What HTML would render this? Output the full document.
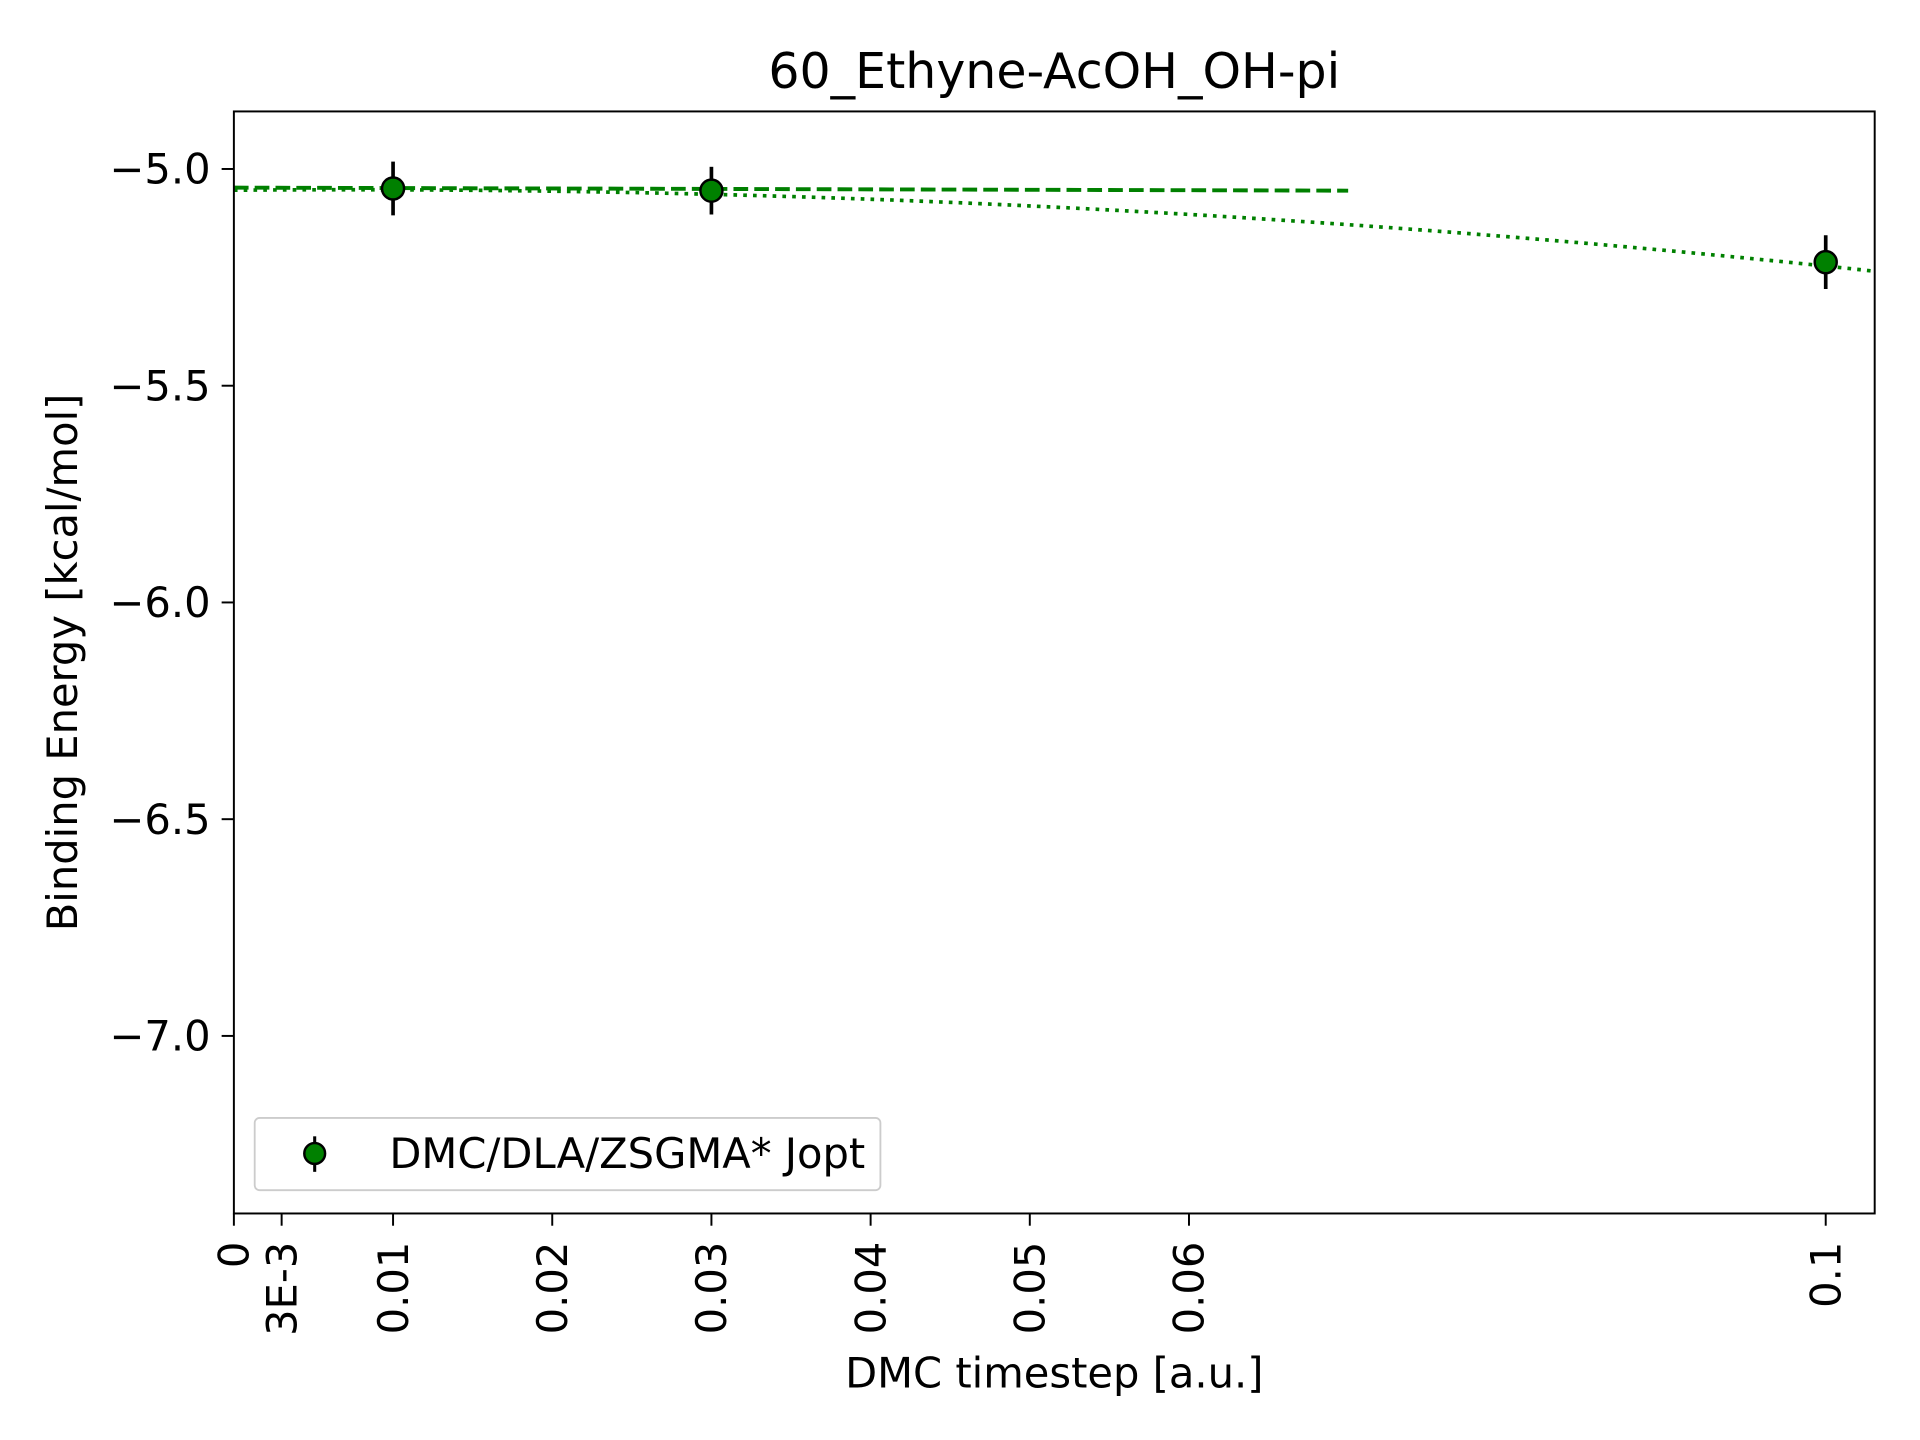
<!DOCTYPE html>
<html><head><meta charset="utf-8"><style>body{margin:0;background:#fff}svg{display:block}text{font-family:"DejaVu Sans","Liberation Sans",sans-serif;fill:#000}</style></head>
<body>
<svg id="chart" width="1920" height="1440" viewBox="0 0 1568 1176" xmlns="http://www.w3.org/2000/svg">
<rect width="1568" height="1176" fill="#fff"/>
<text x="861" y="72" font-size="40" text-anchor="middle">60_Ethyne-AcOH_OH-pi</text>
<g id="plot"></g>
<rect x="191" y="91" width="1340" height="900" fill="none" stroke="#000" stroke-width="1.6"/>
<text x="861" y="1133" font-size="34" text-anchor="middle">DMC timestep [a.u.]</text>
<text transform="translate(63,541) rotate(-90)" font-size="34" text-anchor="middle">Binding Energy [kcal/mol]</text>
<g>
<rect x="208" y="913" width="511" height="59" rx="4" fill="#fff" stroke="#ccc" stroke-width="1.5"/>
<line x1="257" y1="928" x2="257" y2="957" stroke="#000" stroke-width="2.5"/>
<circle cx="257" cy="942" r="8.5" fill="#008000" stroke="#000" stroke-width="2"/>
<text x="318" y="954" font-size="34">DMC/DLA/ZSGMA* Jopt</text>
</g>
<script>
const xs = [0.01, 0.03, 0.1];
const ys = [-5.045, -5.05, -5.215];
const errs = [0.062, 0.055, 0.062];
const xTicks = [0, 0.003, 0.01, 0.02, 0.03, 0.04, 0.05, 0.06, 0.1];
const xTickLabels = ["0", "3E-3", "0.01", "0.02", "0.03", "0.04", "0.05", "0.06", "0.1"];
const yTicks = [-5.0, -5.5, -6.0, -6.5, -7.0];
const yTickLabels = ["\u22125.0", "\u22125.5", "\u22126.0", "\u22126.5", "\u22127.0"];
const linFit = [-5.043, -0.1];
const quadFit = [-5.049, 0.3, -20.5];
const linRange = [0, 0.07];
const quadRange = [0, 0.103];

const X = v => 191 + v * 13000;
const Y = v => 138 + (-5.0 - v) * 354;
const NS = "http://www.w3.org/2000/svg";
const g = document.getElementById('plot');
function mk(tag, attrs, parent) {
  const e = document.createElementNS(NS, tag);
  for (const k in attrs) e.setAttribute(k, attrs[k]);
  (parent || g).appendChild(e);
  return e;
}
xTicks.forEach((t, i) => {
  const l = mk('line', {x1: X(t), x2: X(t), y1: 991, y2: 1001, stroke: '#000', 'stroke-width': 1.6});
  
  
  const tx = mk('text', {transform: `translate(${X(t) + 12},1014) rotate(-90)`, 'font-size': 34, 'text-anchor': 'end'});
  tx.textContent = xTickLabels[i];
  
  
});
yTicks.forEach((t, i) => {
  const l = mk('line', {x1: 181, x2: 191, y1: Y(t), y2: Y(t), stroke: '#000', 'stroke-width': 1.6});
  
  
  const tx = mk('text', {x: 172, y: Y(t) + 12, 'font-size': 34, 'text-anchor': 'end'});
  tx.textContent = yTickLabels[i];
  
  
});
const lin = mk('line', {x1: X(linRange[0]), y1: Y(linFit[0] + linFit[1]*linRange[0]), x2: X(linRange[1]), y2: Y(linFit[0] + linFit[1]*linRange[1]), stroke: '#008000', 'stroke-width': 3.2, 'stroke-dasharray': '12 5'});


let pts = [];
for (let k = 0; k <= 60; k++) {
  const x = quadRange[0] + (quadRange[1] - quadRange[0]) * k / 60;
  pts.push(X(x) + ',' + Y(quadFit[0] + quadFit[1]*x + quadFit[2]*x*x));
}
const q = mk('polyline', {points: pts.join(' '), fill: 'none', stroke: '#008000', 'stroke-width': 3, 'stroke-dasharray': '3 5'});


xs.forEach((x, i) => {
  const e = mk('line', {x1: X(x), x2: X(x), y1: Y(ys[i] + errs[i]), y2: Y(ys[i] - errs[i]), stroke: '#000', 'stroke-width': 3});
  
  
  const c = mk('circle', {cx: X(x), cy: Y(ys[i]), r: 9, fill: '#008000', stroke: '#000', 'stroke-width': 2});
  
  
});
</script>
</svg>
</body></html>
